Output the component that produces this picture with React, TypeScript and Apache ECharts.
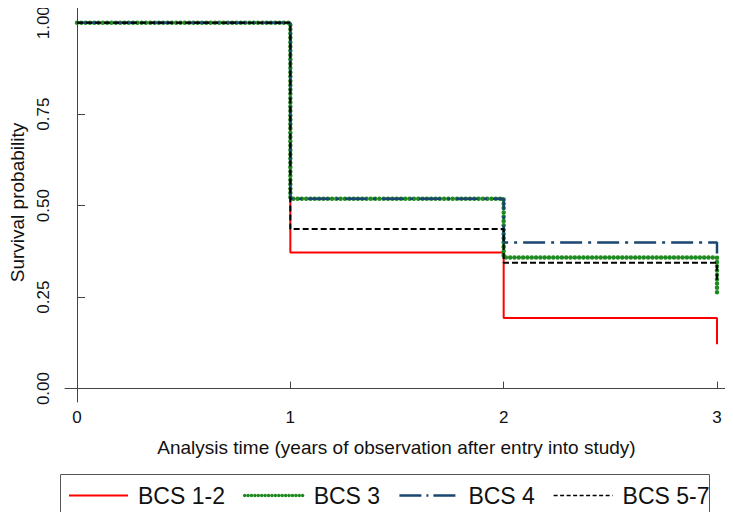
import React, { useEffect, useRef } from "react";
import * as echarts from "echarts";

const years = [0, 1, 2, 3];
const bcs12 = [1.0, 0.372, 0.193, 0.121];
const bcs3 = [1.0, 0.519, 0.358, 0.255];
const bcs4 = [1.0, 0.519, 0.399, 0.369];
const bcs57 = [1.0, 0.436, 0.344, 0.29];
const seriesNames = ["BCS 1-2", "BCS 3", "BCS 4", "BCS 5-7"];
const xTicks = [0, 1, 2, 3];
const yTicks = [0, 0.25, 0.5, 0.75, 1];

const FONT = "Liberation Sans, Arial, sans-serif";

const styles: any[] = [
  { color: "#ff0000", width: 2, type: "solid" },
  { color: "#1f8a1f", width: 4.5, type: [0.01, 4.3], cap: "round" },
  { color: "#1a476f", width: 2.5, type: [22, 6, 3, 6] },
  { color: "#000000", width: 2, type: [6, 3] },
];
const legendStyles: any[] = [
  { color: "#ff0000", width: 2, type: "solid" },
  { color: "#1f8a1f", width: 3.5, type: [0.01, 3.4], cap: "round" },
  { color: "#1a476f", width: 2.5, type: [22, 5, 2, 5] },
  { color: "#000000", width: 1.5, type: [4, 2.5] },
];

export default function App() {
  const ref = useRef<HTMLDivElement>(null);
  useEffect(() => {
    if (!ref.current) return;
    const chart = echarts.init(ref.current, null, { renderer: "svg" });
    const pts = (ys: number[]) => years.map((x, i) => [x, ys[i]]);
    const mk = (name: string, ys: number[], lineStyle: any) => ({
      name,
      type: "line",
      step: "end",
      data: pts(ys),
      symbol: "none",
      showSymbol: false,
      lineStyle,
      itemStyle: { color: lineStyle.color },
      z: 2,
    });
    chart.setOption({
      animation: false,
      backgroundColor: "#ffffff",
      textStyle: { fontFamily: FONT },
      grid: { left: 65, right: 5, top: 3, bottom: 118, containLabel: false, outerBoundsMode: "none" },
      xAxis: {
        type: "value",
        min: -0.0563,
        max: 3.0516,
        name: "Analysis time (years of observation after entry into study)",
        nameLocation: "middle",
        nameGap: 36,
        nameTextStyle: { fontSize: 19, color: "#111", fontFamily: FONT },
        axisLine: { show: true, lineStyle: { color: "#444", width: 1 } },
        axisTick: { show: true, inside: true, length: 7, customValues: xTicks, lineStyle: { color: "#444" } },
        axisLabel: { customValues: xTicks, fontSize: 17, color: "#111", margin: 7, fontFamily: FONT },
        splitLine: { show: false },
      },
      yAxis: {
        type: "value",
        min: -0.0367,
        max: 1.0539,
        name: "Survival probability",
        nameLocation: "middle",
        nameGap: 33,
        nameRotate: 90,
        nameTextStyle: { fontSize: 19, color: "#111", fontFamily: FONT },
        axisLine: { show: true, lineStyle: { color: "#444", width: 1 } },
        axisTick: { show: true, inside: true, length: 8, customValues: yTicks, lineStyle: { color: "#444" } },
        axisLabel: {
          customValues: yTicks,
          rotate: 90,
          fontSize: 17,
          color: "#111",
          margin: 13,
          fontFamily: FONT,
          formatter: (v: number) => v.toFixed(2),
        },
        splitLine: { show: false },
      },
      legend: {
        data: seriesNames.map((n, i) => ({ name: n, lineStyle: legendStyles[i] })),
        left: 68,
        top: 484,
        padding: 0,
        itemWidth: 59,
        itemHeight: 14,
        itemGap: 18,
        itemStyle: { opacity: 0 },
        textStyle: { fontSize: 23, color: "#111", fontFamily: FONT, lineHeight: 23, padding: [0, 0, 0, 5] },
      },
      graphic: [
        {
          type: "rect",
          shape: { x: 60.5, y: 474.5, width: 649, height: 42 },
          style: { fill: "none", stroke: "#555", lineWidth: 1 },
          silent: true,
        },
      ],
      series: seriesNames.map((n, i) => mk(n, [bcs12, bcs3, bcs4, bcs57][i], styles[i])),
    });
    return () => chart.dispose();
  }, []);
  return <div ref={ref} style={{ width: 733, height: 520, margin: -8 }} />;
}
